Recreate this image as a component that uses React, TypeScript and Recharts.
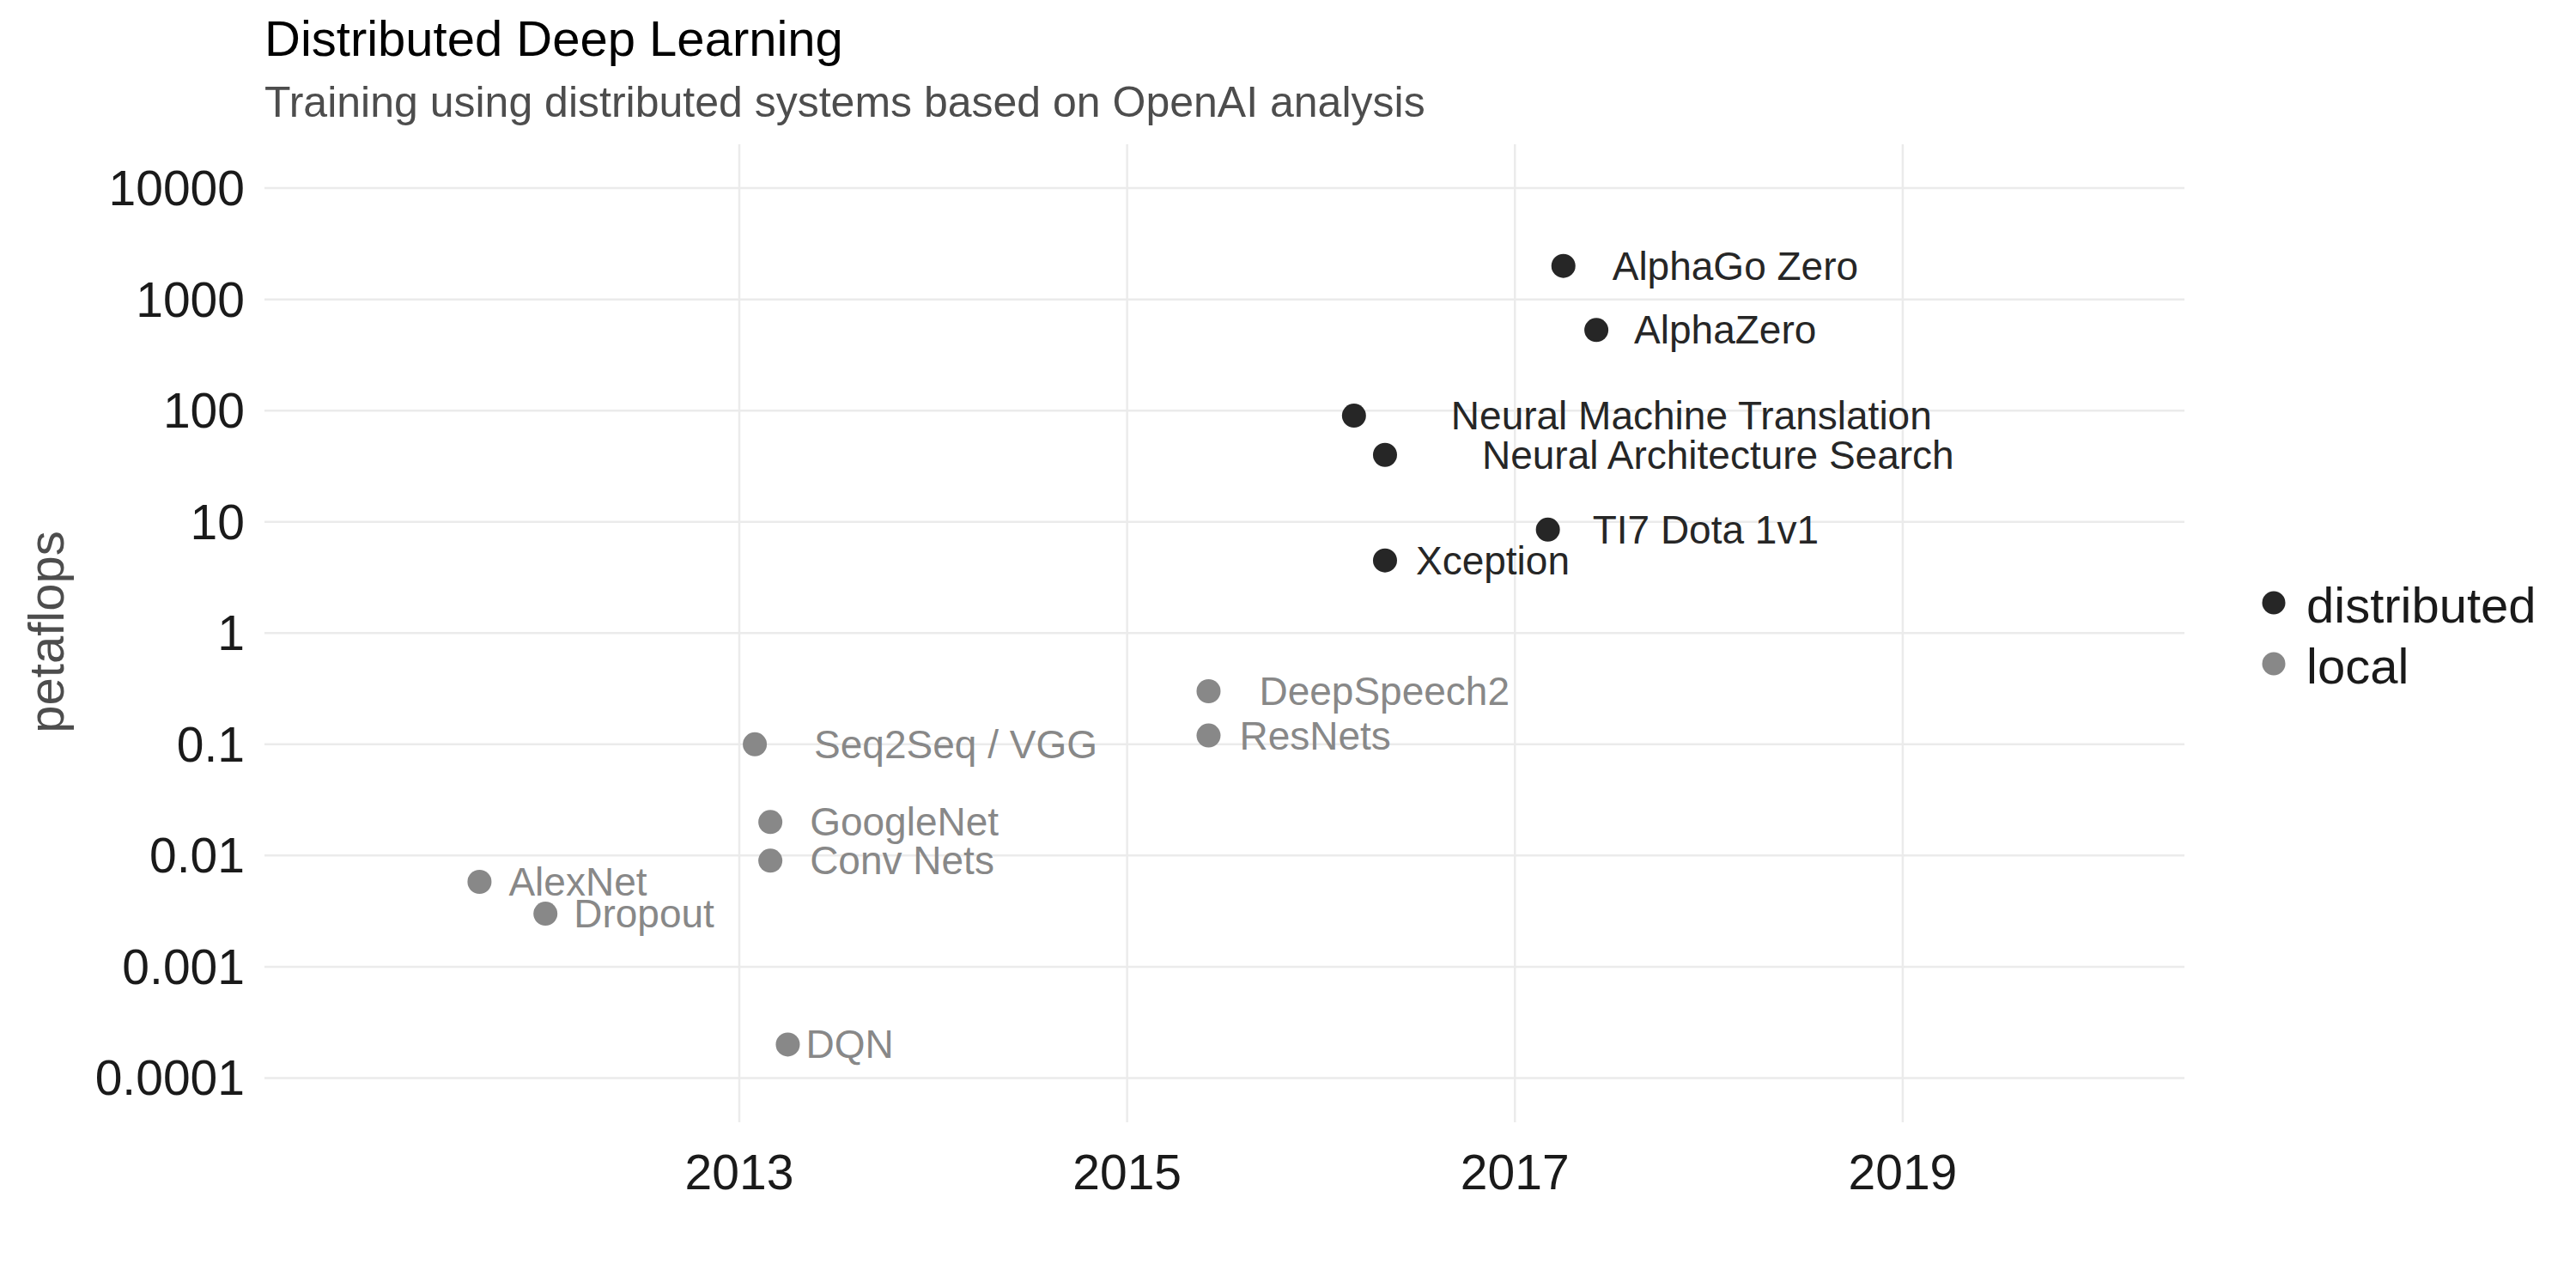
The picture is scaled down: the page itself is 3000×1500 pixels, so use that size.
import React from "react";
import { ScatterChart, Scatter, XAxis, YAxis, CartesianGrid } from "recharts";

const names = [
  "AlphaGo Zero", "AlphaZero", "Neural Machine Translation", "Neural Architecture Search",
  "TI7 Dota 1v1", "Xception", "DeepSpeech2", "ResNets", "Seq2Seq / VGG", "GoogleNet",
  "Conv Nets", "AlexNet", "Dropout", "DQN",
];
const years = [2017.25, 2017.42, 2016.17, 2016.33, 2017.17, 2016.33, 2015.42, 2015.42, 2013.08, 2013.16, 2013.16, 2011.66, 2012.0, 2013.25];
const petaflops = [2000, 530, 90, 40, 8.5, 4.5, 0.3, 0.12, 0.1, 0.02, 0.009, 0.0058, 0.003, 0.0002];
const kinds = [
  "distributed", "distributed", "distributed", "distributed", "distributed", "distributed",
  "local", "local", "local", "local", "local", "local", "local", "local",
];
const groups = ["distributed", "local"];
const yearTicks = [2013, 2015, 2017, 2019];
const flopTicks = [0.0001, 0.001, 0.01, 0.1, 1, 10, 100, 1000, 10000];

const X_DOMAIN = [2010.551, 2020.453];
const Y_DOMAIN = [0.00004, 24800];

const FONT = "'Liberation Sans', Arial, Helvetica, sans-serif";
const colors: Record<string, string> = { distributed: "#262626", local: "#888888" };

// how far each label sits right of its point (like ggrepel's nudge)
const labelDx: Record<string, number> = {
  "AlphaGo Zero": 57, AlphaZero: 44, "Neural Machine Translation": 113, "Neural Architecture Search": 113,
  "TI7 Dota 1v1": 52, Xception: 36, DeepSpeech2: 59, ResNets: 36, "Seq2Seq / VGG": 69,
  GoogleNet: 46, "Conv Nets": 46, AlexNet: 34, Dropout: 33, DQN: 21,
};

const rows = names.map((name, i) => ({ name, year: years[i], value: petaflops[i], kind: kinds[i] }));

const Dot = (props: any) => {
  const { cx, cy, payload } = props;
  const c = colors[payload.kind];
  return (
    <g>
      <circle cx={cx} cy={cy} r={14} fill={c} />
      <text x={cx + (labelDx[payload.name] ?? 30)} y={cy} dominantBaseline="central" fontSize={46} fontFamily={FONT} fill={c}>
        {payload.name}
      </text>
    </g>
  );
};

const YTick = ({ x, y, payload }: any) => (
  <text x={x - 23} y={y} textAnchor="end" dominantBaseline="central" fontSize={57} fontFamily={FONT} fill="#1a1a1a">
    {String(payload.value)}
  </text>
);

const XTick = ({ x, y, payload }: any) => (
  <text x={x} y={y + 58} textAnchor="middle" dominantBaseline="central" fontSize={57} fontFamily={FONT} fill="#1a1a1a">
    {payload.value}
  </text>
);

// grid only on the major ticks, no frame round the panel
const vGrid = ({ xAxis, offset }: any) =>
  yearTicks.map(t =>
    xAxis && typeof xAxis.scale === "function"
      ? xAxis.scale(t)
      : offset.left + ((t - X_DOMAIN[0]) / (X_DOMAIN[1] - X_DOMAIN[0])) * offset.width
  );
const hGrid = ({ yAxis, offset }: any) =>
  flopTicks.map(t =>
    yAxis && typeof yAxis.scale === "function"
      ? yAxis.scale(t)
      : offset.top +
        ((Math.log10(Y_DOMAIN[1]) - Math.log10(t)) / (Math.log10(Y_DOMAIN[1]) - Math.log10(Y_DOMAIN[0]))) * offset.height
  );

export default function App() {
  return (
    <div style={{ position: "absolute", left: 0, top: 0, width: 3000, height: 1500, background: "white" }}>
      <ScatterChart width={3000} height={1500} margin={{ top: 168, right: 456, bottom: 73, left: 58 }}>
        <CartesianGrid stroke="#ebebeb" strokeWidth={2.5} verticalCoordinatesGenerator={vGrid} horizontalCoordinatesGenerator={hGrid} />
        <XAxis
          type="number"
          dataKey="year"
          domain={X_DOMAIN}
          ticks={yearTicks}
          allowDataOverflow
          axisLine={false}
          tickLine={false}
          tickSize={0}
          tickMargin={0}
          height={120}
          tick={<XTick />}
        />
        <YAxis
          type="number"
          dataKey="value"
          scale="log"
          domain={Y_DOMAIN}
          ticks={flopTicks}
          allowDataOverflow
          axisLine={false}
          tickLine={false}
          tickSize={0}
          tickMargin={0}
          width={250}
          tick={<YTick />}
        />
        {groups.map(g => (
          <Scatter key={g} name={g} data={rows.filter(r => r.kind === g)} fill={colors[g]} shape={<Dot />} isAnimationActive={false} />
        ))}
      </ScatterChart>
      <svg width={3000} height={1500} style={{ position: "absolute", left: 0, top: 0, pointerEvents: "none" }}>
        <text x={308} y={65} fontSize={58} fontFamily={FONT} fill="#000000">Distributed Deep Learning</text>
        <text x={308} y={136} fontSize={50} fontFamily={FONT} fill="#4d4d4d">Training using distributed systems based on OpenAI analysis</text>
        <text x={53} y={736} fontSize={58} fontFamily={FONT} fill="#4d4d4d" textAnchor="middle" dominantBaseline="central" transform="rotate(-90 53 736)">
          petaflops
        </text>
        {groups.map((g, i) => (
          <g key={g}>
            <circle cx={2648} cy={702 + i * 71} r={13.5} fill={colors[g]} />
            <text x={2686} y={704 + i * 71} fontSize={58} fontFamily={FONT} fill="#1a1a1a" dominantBaseline="central">
              {g}
            </text>
          </g>
        ))}
      </svg>
    </div>
  );
}
